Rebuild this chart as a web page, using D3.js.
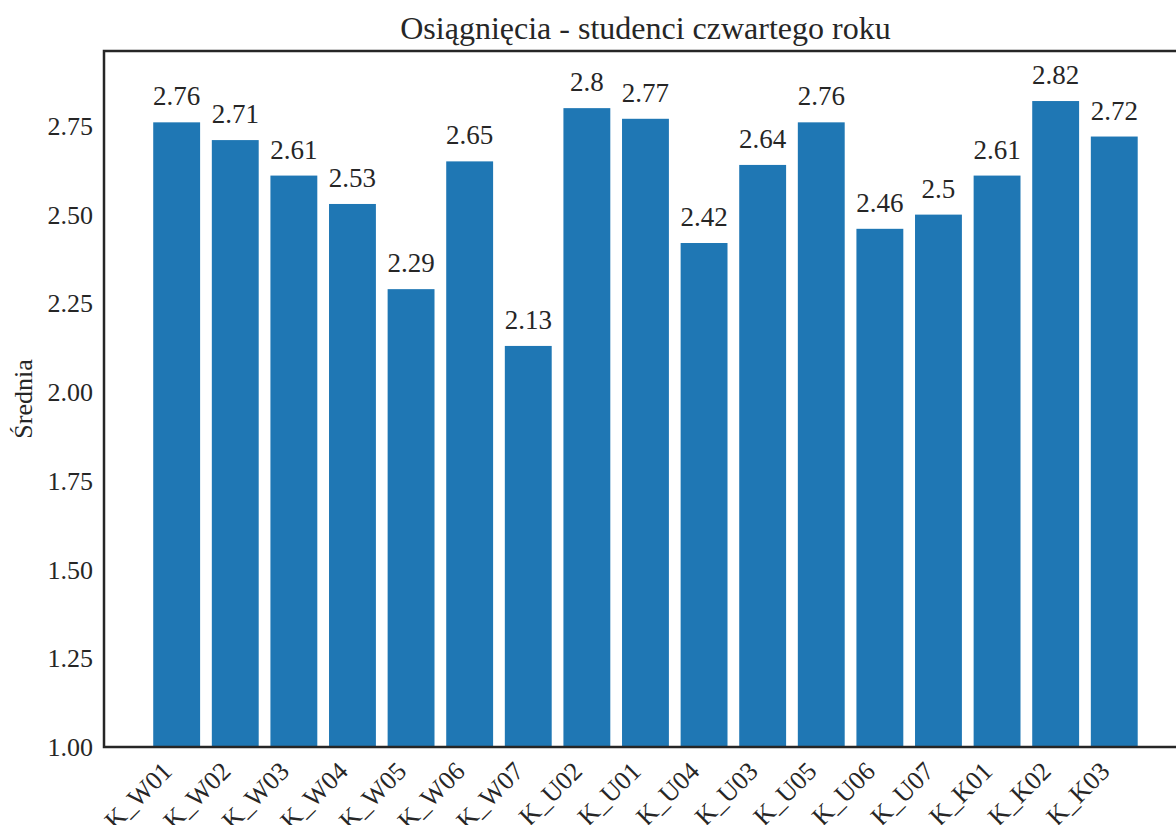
<!DOCTYPE html>
<html><head><meta charset="utf-8">
<script src="https://cdn.jsdelivr.net/npm/d3@7"></script>
<style>body{margin:0;background:#fff}svg{display:block}</style>
</head><body>
<svg id="chart" width="1176" height="825" font-family="'Liberation Serif','Times New Roman',serif"></svg>
<script>
const categories = ["K_W01","K_W02","K_W03","K_W04","K_W05","K_W06","K_W07","K_U02","K_U01","K_U04","K_U03","K_U05","K_U06","K_U07","K_K01","K_K02","K_K03"];
const values = [2.76,2.71,2.61,2.53,2.29,2.65,2.13,2.8,2.77,2.42,2.64,2.76,2.46,2.5,2.61,2.82,2.72];
const yTicks = [1.00,1.25,1.50,1.75,2.00,2.25,2.50,2.75];
const title = "Osiągnięcia - studenci czwartego roku";
const yLabel = "Średnia";

const FONT = "'Liberation Serif','Times New Roman',serif";
const INK = "#262626";
const svg = d3.select("#chart");
const mLeft = 104, mTop = 51, mBottom = 747;
const n = categories.length;
const x = d3.scaleLinear().domain([-1.24, n - 1 + 1.24]).range([mLeft, mLeft + 58.6 * (n - 1 + 2.48)]);
const y = d3.scaleLinear().domain([1, 2.961]).range([mBottom, mTop]);
const bw = x(0.4) - x(-0.4);
const mRight = x.range()[1];

svg.append("g").selectAll("rect").data(values).join("rect")
  .attr("x", (d, i) => x(i) - bw / 2)
  .attr("y", d => y(d))
  .attr("width", bw)
  .attr("height", d => mBottom - y(d))
  .attr("fill", "#1f77b4");

svg.append("g").attr("font-family", FONT).attr("font-size", 27).attr("fill", INK)
  .selectAll("text").data(values).join("text")
  .attr("x", (d, i) => x(i))
  .attr("y", d => y(d) - 17)
  .attr("text-anchor", "middle")
  .text(d => String(d));

// frame
svg.append("rect").attr("x", mLeft).attr("y", mTop).attr("width", mRight - mLeft).attr("height", mBottom - mTop)
  .attr("fill", "none").attr("stroke", INK).attr("stroke-width", 2.5);

// y axis
const yAxis = d3.axisLeft(y).tickValues(yTicks).tickFormat(d3.format(".2f")).tickSize(0).tickPadding(11);
const gy = svg.append("g").attr("transform", `translate(${mLeft},0)`).call(yAxis)
  .attr("font-family", FONT).attr("font-size", 26);
gy.select(".domain").remove();
gy.selectAll("text").attr("fill", INK).attr("dy", "0.33em");

// x labels rotated
const xs = d3.scaleBand().domain(categories).range([x(-0.5), x(n - 0.5)]);
const xAxis = d3.axisBottom(xs).tickSize(0).tickPadding(0);
const gx = svg.append("g").attr("transform", `translate(0,${mBottom})`).call(xAxis)
  .attr("font-family", FONT).attr("font-size", 26);
gx.select(".domain").remove();
gx.selectAll("text")
  .attr("fill", INK)
  .attr("text-anchor", "end")
  .attr("y", 0).attr("dy", "0.7em")
  .attr("transform", "translate(-16,13) rotate(-45)");

svg.append("text").attr("x", (mLeft + mRight) / 2).attr("y", 39).attr("text-anchor", "middle")
  .attr("font-family", FONT).attr("font-size", 32).attr("fill", INK).text(title);

svg.append("text").attr("transform", `translate(32,${(mTop + mBottom) / 2}) rotate(-90)`)
  .attr("text-anchor", "middle").attr("font-family", FONT).attr("font-size", 26).attr("fill", INK).text(yLabel);
</script>
</body></html>
